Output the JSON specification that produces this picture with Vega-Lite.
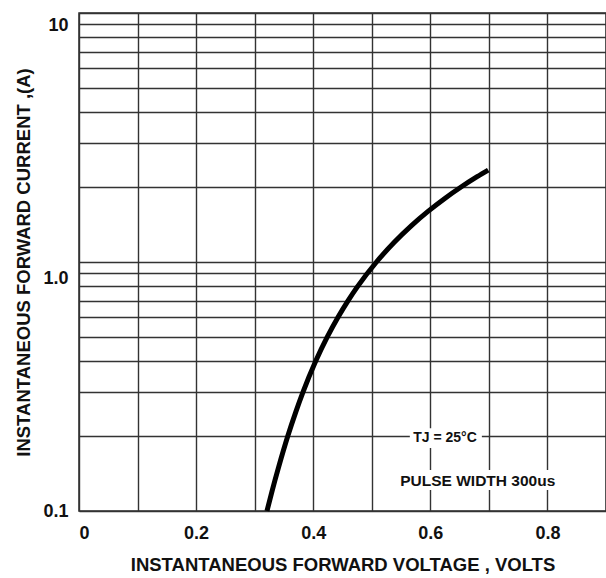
{
  "$schema": "https://vega.github.io/schema/vega-lite/v6.json",
  "autosize": {"type": "none"},
  "padding": {"left": 79, "top": 13, "right": 0, "bottom": 67},
  "width": 527,
  "height": 498,
  "background": "white",
  "config": {
    "font": "Liberation Sans",
    "view": {"stroke": "#2a2a2a", "strokeWidth": 1.5},
    "axis": {
      "grid": true,
      "gridColor": "#333333",
      "gridWidth": 1.4,
      "gridOpacity": 1,
      "ticks": false,
      "domain": false,
      "labelFont": "Liberation Sans",
      "labelFontWeight": "bold",
      "labelFontSize": 18,
      "labelColor": "#111111",
      "titleFont": "Liberation Sans",
      "titleFontWeight": "bold",
      "titleColor": "#111111"
    }
  },
  "datasets": {
    "curve": [
      {"V": 0.321, "I": 0.1},
      {"V": 0.3296, "I": 0.12},
      {"V": 0.3409, "I": 0.15},
      {"V": 0.3566, "I": 0.2},
      {"V": 0.3703, "I": 0.25},
      {"V": 0.3825, "I": 0.3},
      {"V": 0.4043, "I": 0.4},
      {"V": 0.424, "I": 0.5},
      {"V": 0.4423, "I": 0.6},
      {"V": 0.4596, "I": 0.7},
      {"V": 0.4762, "I": 0.8},
      {"V": 0.508, "I": 1.0},
      {"V": 0.5384, "I": 1.2},
      {"V": 0.5678, "I": 1.4},
      {"V": 0.5965, "I": 1.6},
      {"V": 0.6247, "I": 1.8},
      {"V": 0.6525, "I": 2.0},
      {"V": 0.6799, "I": 2.2},
      {"V": 0.6989, "I": 2.34}
    ],
    "notes": [
      {"label": "TJ = 25°C", "kind": "temp", "V": 0.625, "I": 0.197, "x1": 0.565, "x2": 0.688, "y1": 0.179, "y2": 0.215},
      {"label": "PULSE WIDTH 300us", "kind": "pulse", "V": 0.681, "I": 0.132, "x1": 0.544, "x2": 0.817, "y1": 0.1214, "y2": 0.146}
    ]
  },
  "layer": [
    {
      "data": {"name": "curve"},
      "mark": {"type": "line", "color": "black", "strokeWidth": 5, "interpolate": "monotone", "strokeCap": "butt"},
      "encoding": {
        "x": {
          "field": "V", "type": "quantitative",
          "scale": {"domain": [0, 0.9], "nice": false, "zero": false},
          "axis": {
            "values": [0, 0.1, 0.2, 0.3, 0.4, 0.5, 0.6, 0.7, 0.8, 0.9],
            "labelExpr": "datum.value == 0 ? '0' : (abs(datum.value - 0.2) < 0.01 ? '0.2' : (abs(datum.value - 0.4) < 0.01 ? '0.4' : (abs(datum.value - 0.6) < 0.01 ? '0.6' : (abs(datum.value - 0.8) < 0.01 ? '0.8' : ''))))",
            "labelPadding": 13,
            "title": "INSTANTANEOUS FORWARD VOLTAGE , VOLTS",
            "titleFontSize": 18.5,
            "titlePadding": 13
          }
        },
        "y": {
          "field": "I", "type": "quantitative",
          "scale": {"type": "log", "domain": [0.1, 10], "nice": false},
          "axis": {
            "values": [0.1, 0.2, 0.3, 0.4, 0.5, 0.6, 0.7, 0.8, 0.9, 1, 2, 3, 4, 5, 6, 7, 8, 9, 10],
            "labelExpr": "datum.value < 0.15 ? '0.1' : (abs(datum.value - 1) < 0.01 ? '1.0' : (datum.value > 9.5 ? '10' : ''))",
            "labelOffset": {"condition": [{"test": "datum.value > 9.5", "value": 12}, {"test": "abs(datum.value - 1) < 0.01", "value": 16}], "value": 0},
            "labelPadding": 11,
            "title": "INSTANTANEOUS  FORWARD CURRENT ,(A)",
            "titleFontSize": 18.5,
            "titlePadding": 9
          }
        }
      }
    },
    {
      "data": {"name": "notes"},
      "mark": {"type": "rect", "color": "white", "opacity": 1},
      "encoding": {
        "x": {"field": "x1", "type": "quantitative"},
        "x2": {"field": "x2"},
        "y": {"field": "y1", "type": "quantitative"},
        "y2": {"field": "y2"}
      }
    },
    {
      "data": {"name": "notes"},
      "transform": [{"filter": "datum.kind == 'temp'"}],
      "mark": {"type": "text", "font": "Liberation Sans", "fontWeight": "bold", "fontSize": 14, "color": "#111111", "align": "center", "baseline": "middle"},
      "encoding": {
        "x": {"field": "V", "type": "quantitative"},
        "y": {"field": "I", "type": "quantitative"},
        "text": {"field": "label"}
      }
    },
    {
      "data": {"name": "notes"},
      "transform": [{"filter": "datum.kind == 'pulse'"}],
      "mark": {"type": "text", "font": "Liberation Sans", "fontWeight": "bold", "fontSize": 15.5, "color": "#111111", "align": "center", "baseline": "middle"},
      "encoding": {
        "x": {"field": "V", "type": "quantitative"},
        "y": {"field": "I", "type": "quantitative"},
        "text": {"field": "label"}
      }
    }
  ]
}
